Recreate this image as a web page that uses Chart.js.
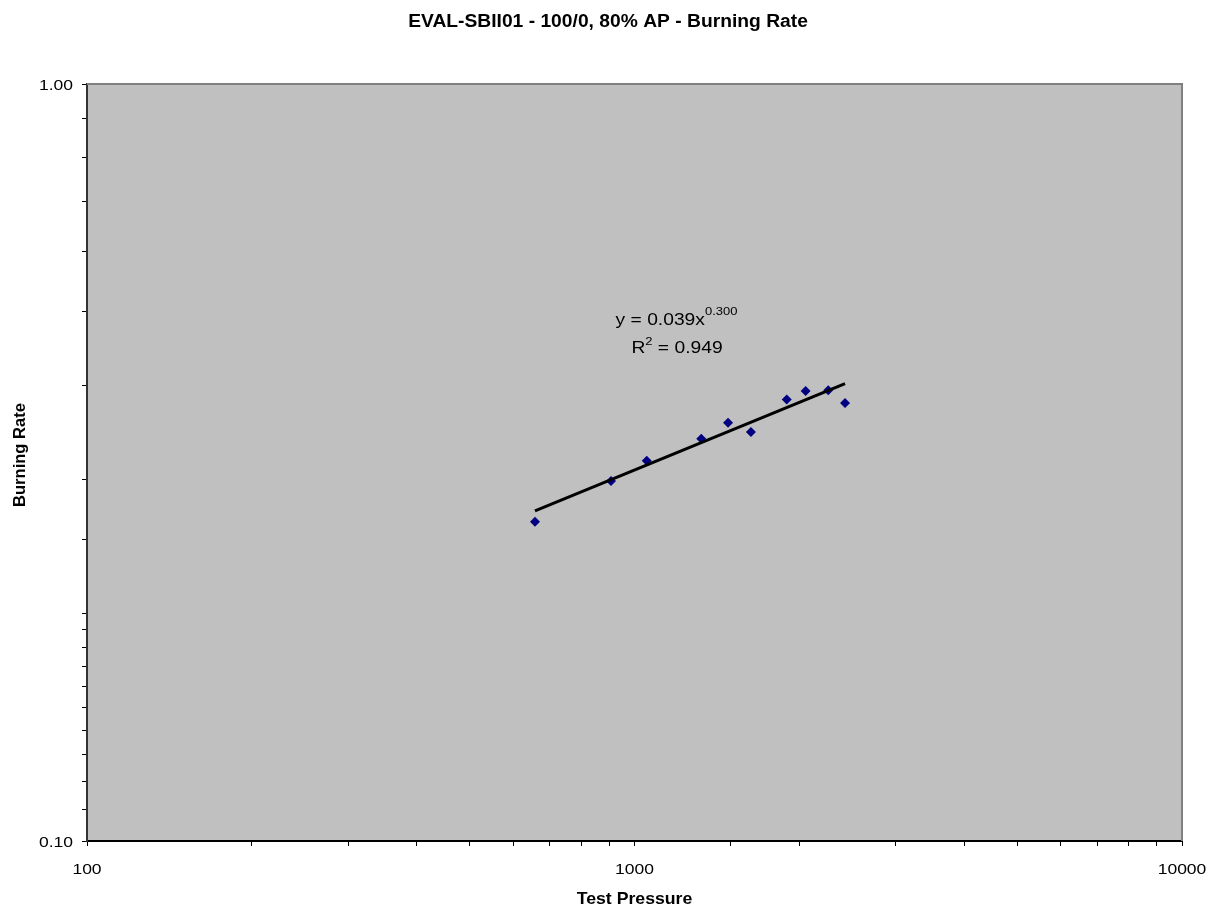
<!DOCTYPE html>
<html><head><meta charset="utf-8">
<script src="https://cdn.jsdelivr.net/npm/chart.js@4/dist/chart.umd.min.js"></script>
<style>html,body{margin:0;padding:0;background:#fff;}#wrap{width:1216px;height:909px;}</style>
</head><body><div id="wrap"><canvas id="c" width="1216" height="909"></canvas></div>
<script>
const titleText = 'EVAL-SBII01 - 100/0, 80% AP - Burning Rate';
const xAxisTitle = 'Test Pressure';
const yAxisTitle = 'Burning Rate';
const testPressure = [658, 906, 1053, 1324, 1482, 1632, 1897, 2054, 2259, 2424];
const burningRate = [0.264, 0.299, 0.318, 0.340, 0.357, 0.347, 0.383, 0.393, 0.394, 0.379];
const trendPressure = [658, 2424];
const trendRate = [0.273, 0.402];
const xTickLabels = [100, 1000, 10000];
const yTickLabels = [0.1, 1.0];
const equationMain = 'y = 0.039x';
const equationExp = '0.300';
const r2Main = 'R';
const r2Exp = '2';
const r2Rest = ' = 0.949';

const FONT = "'Liberation Sans', Arial, Helvetica, sans-serif";

function txt(ctx, s, x, y, size, bold, align, sx) {
  ctx.save();
  ctx.translate(x, y);
  ctx.scale(sx || 1, 1);
  ctx.font = (bold ? 'bold ' : '') + size + 'px ' + FONT;
  ctx.textAlign = align || 'left';
  ctx.textBaseline = 'alphabetic';
  ctx.fillStyle = '#000';
  ctx.fillText(s, 0, 0);
  ctx.restore();
}
function w(ctx, s, size, bold, sx) {
  ctx.save();
  ctx.font = (bold ? 'bold ' : '') + size + 'px ' + FONT;
  const m = ctx.measureText(s).width * (sx || 1);
  ctx.restore();
  return m;
}
const isIn = (arr, v) => arr.some(a => Math.abs(a - v) / a < 1e-6);

const decor = {
  id: 'decor',
  beforeDraw(chart) {
    const {ctx, chartArea: a} = chart;
    ctx.save();
    ctx.fillStyle = '#fff';
    ctx.fillRect(0, 0, chart.width, chart.height);
    ctx.fillStyle = '#C0C0C0';
    ctx.fillRect(a.left, a.top, a.right - a.left, a.bottom - a.top);
    ctx.restore();
  },
  afterDraw(chart) {
    const {ctx, chartArea: a, scales} = chart;
    ctx.save();
    ctx.strokeStyle = '#808080';
    ctx.lineWidth = 2;
    ctx.beginPath();
    ctx.moveTo(a.left, a.top); ctx.lineTo(a.right, a.top); ctx.lineTo(a.right, a.bottom);
    ctx.stroke();
    ctx.restore();
    // tick labels
    const tsx = 1.13, tsz = 15.5;
    scales.x.ticks.forEach(t => {
      if (isIn(xTickLabels, t.value)) {
        txt(ctx, String(Math.round(t.value)), scales.x.getPixelForValue(t.value), a.bottom + 33, tsz, false, 'center', tsx);
      }
    });
    scales.y.ticks.forEach(t => {
      if (isIn(yTickLabels, t.value)) {
        txt(ctx, t.value.toFixed(2), a.left - 14, scales.y.getPixelForValue(t.value) + 6, tsz, false, 'right', tsx);
      }
    });
    // title
    txt(ctx, titleText, chart.width / 2, 27, 17.5, true, 'center', 1.1);
    // axis titles
    txt(ctx, xAxisTitle, (a.left + a.right) / 2, 904, 17, true, 'center', 1.04);
    ctx.save();
    ctx.translate(25, 455);
    ctx.rotate(-Math.PI / 2);
    txt(ctx, yAxisTitle, 0, 0, 16.6, true, 'center', 1);
    ctx.restore();
    // equation
    const esz = 17.2, ssz = 11.6, esx = 1.12;
    const w1 = w(ctx, equationMain, esz, false, esx), w2 = w(ctx, equationExp, ssz, false, esx);
    let x0 = 676.5 - (w1 + w2) / 2;
    txt(ctx, equationMain, x0, 325, esz, false, 'left', esx);
    txt(ctx, equationExp, x0 + w1, 315, ssz, false, 'left', esx);
    const r1 = w(ctx, r2Main, esz, false, esx), r2 = w(ctx, r2Exp, ssz, false, esx), r3 = w(ctx, r2Rest, esz, false, esx);
    x0 = 677 - (r1 + r2 + r3) / 2;
    txt(ctx, r2Main, x0, 353, esz, false, 'left', esx);
    txt(ctx, r2Exp, x0 + r1, 345, ssz, false, 'left', esx);
    txt(ctx, r2Rest, x0 + r1 + r2, 353, esz, false, 'left', esx);
  }
};

new Chart(document.getElementById('c'), {
  type: 'scatter',
  data: {
    datasets: [
      {
        label: 'Trend',
        data: trendPressure.map((x, i) => ({x, y: trendRate[i]})),
        showLine: true,
        borderColor: '#000',
        borderWidth: 3,
        pointRadius: 0,
        fill: false
      },
      {
        label: 'Burning Rate',
        data: testPressure.map((x, i) => ({x, y: burningRate[i]})),
        pointStyle: 'rectRot',
        pointRadius: 5,
        backgroundColor: '#000080',
        borderColor: '#000080',
        borderWidth: 0
      }
    ]
  },
  options: {
    responsive: false,
    devicePixelRatio: 1,
    animation: false,
    layout: {padding: {top: 84, right: 34, left: 0, bottom: 0}},
    plugins: {legend: {display: false}, tooltip: {enabled: false}, title: {display: false}},
    scales: {
      x: {
        type: 'logarithmic', min: 100, max: 10000, position: 'bottom',
        afterFit(s) { s.height = 68; },
        ticks: {display: false, autoSkip: false},
        grid: {drawOnChartArea: false, drawTicks: true, tickLength: 5, color: '#000', lineWidth: 1},
        border: {display: true, color: '#000', width: 2}
      },
      y: {
        type: 'logarithmic', min: 0.1, max: 1, position: 'left',
        afterFit(s) { s.width = 87; },
        ticks: {display: false, autoSkip: false},
        grid: {drawOnChartArea: false, drawTicks: true, tickLength: 5, color: '#000', lineWidth: 1},
        border: {display: true, color: '#333', width: 2}
      }
    }
  },
  plugins: [decor]
});
</script></body></html>
